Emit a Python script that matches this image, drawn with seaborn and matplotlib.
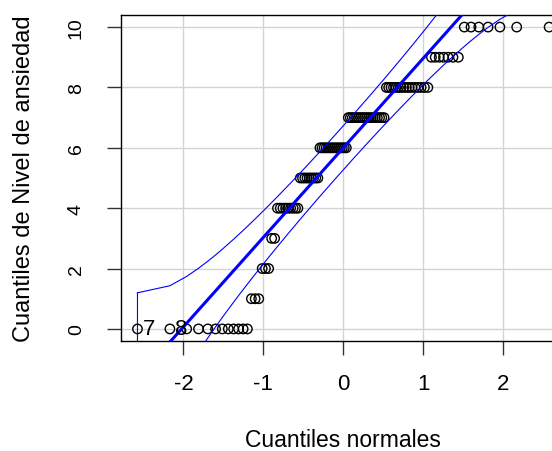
import matplotlib
matplotlib.use("Agg")
import matplotlib.pyplot as plt
import seaborn as sns
import numpy as np
import pandas as pd
from statistics import NormalDist

# Data: response levels and how many observations at each level (n = 100)
levels = [0, 1, 2, 3, 4, 5, 6, 7, 8, 9, 10]
counts = [12, 3, 3, 2, 9, 9, 14, 18, 16, 7, 7]
point_labels = ["7", "8"]          # ids of the two most extreme low points
x_ticks = [-2, -1, 0, 1, 2]
y_ticks = [0, 2, 4, 6, 8, 10]
x_label = "Cuantiles normales"
y_label = "Cuantiles de Nivel de ansiedad"

values = np.repeat(levels, counts).astype(float)
n = len(values)
nd = NormalDist()
P = (np.arange(1, n + 1) - 0.5) / n
z = np.array([nd.inv_cdf(p) for p in P])
dens = np.array([nd.pdf(v) for v in z])

q25, q75 = np.quantile(values, [0.25, 0.75])
zq25, zq75 = nd.inv_cdf(0.25), nd.inv_cdf(0.75)
b = (q75 - q25) / (zq75 - zq25)
a = q25 - b * zq25
zz = nd.inv_cdf(0.975)
se = (b / dens) * np.sqrt(P * (1 - P) / n)
fit = a + b * z
upper = fit + zz * se
lower = fit - zz * se

df = pd.DataFrame({"z": z, "y": values, "upper": upper, "lower": lower})
# envelope outline as a closed polygon (upper path, then lower path reversed)
env = pd.DataFrame({
    "z": np.concatenate([z, z[::-1], z[:1]]),
    "v": np.concatenate([upper, lower[::-1], upper[:1]]),
    "order": np.arange(2 * n + 1),
})

plt.rcParams["font.family"] = ["Liberation Sans", "DejaVu Sans"]
fig = plt.figure(figsize=(5.52, 4.52), dpi=100)
ax_w = 565.6 - 121
ax = fig.add_axes([121 / 552, 110 / 452, ax_w / 552, 326 / 452])

xlim = (-2.782, 2.782)
ylim = (-0.4, 10.4)

for t in x_ticks:
    ax.axvline(t, color="#d3d3d3", lw=1, zorder=0)
for t in y_ticks:
    ax.axhline(t, color="#d3d3d3", lw=1, zorder=0)

sns.scatterplot(data=df, x="z", y="y", ax=ax, marker="o", s=46,
                facecolor="none", edgecolor="black", linewidth=1.0, zorder=3)
line_df = pd.DataFrame({"z": list(xlim), "fit": [a + b * xlim[0], a + b * xlim[1]]})
sns.lineplot(data=line_df, x="z", y="fit", ax=ax, color="#0000ff", lw=2.2, zorder=4)
sns.lineplot(data=env, x="z", y="v", ax=ax, color="#0000ff", lw=0.8, zorder=4,
             sort=False, estimator=None)

for i, lab in enumerate(point_labels):
    ax.text(z[i] + 0.07, values[i], lab, fontsize=16, va="center", ha="left", zorder=5)

ax.set_xlim(*xlim)
ax.set_ylim(*ylim)
ax.set_xticks(x_ticks)
ax.set_yticks(y_ticks)
ax.set_xticklabels([str(t) for t in x_ticks])
ax.set_yticklabels([str(t) for t in y_ticks], rotation=90, va="center")
ax.tick_params(axis="both", length=10, width=1, color="#333333")
ax.tick_params(axis="x", labelsize=16, pad=13)
ax.tick_params(axis="y", labelsize=14, pad=16)
for s in ax.spines.values():
    s.set_color("black")
    s.set_linewidth(1)
ax.set_xlabel(x_label, fontsize=16.5)
ax.set_ylabel(y_label, fontsize=17)
ax.xaxis.set_label_coords((343 - 121) / ax_w, (342 - 441) / 326)
ax.xaxis.label.set_va("center")
ax.yaxis.set_label_coords((24 - 121) / ax_w, (342 - 179) / 326)
ax.yaxis.label.set_va("center")

fig.savefig("out.png", dpi=100)
